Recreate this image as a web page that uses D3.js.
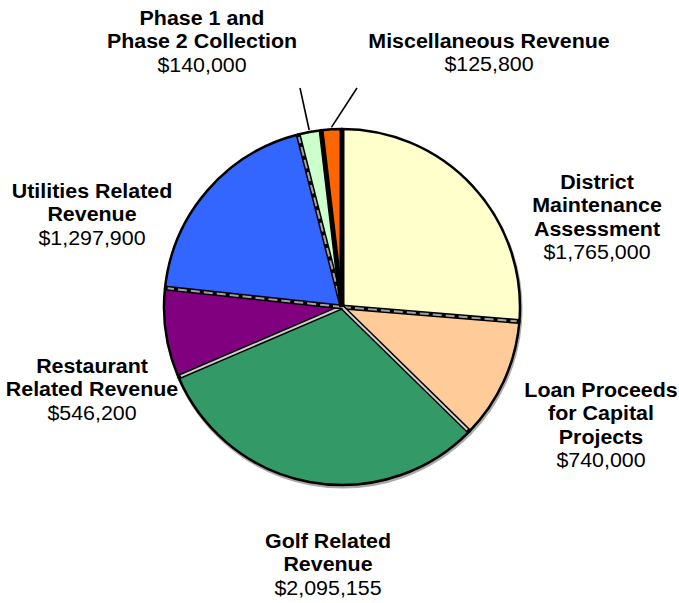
<!DOCTYPE html>
<html>
<head>
<meta charset="utf-8">
<script src="https://cdn.jsdelivr.net/npm/d3@7"></script>
<style>
  body { margin: 0; background: #fff; }
  svg { display: block; font-family: Arial, "Liberation Sans", sans-serif; }
  .lbl-b { font-weight: bold; font-size: 20px; fill: #000; }
  .lbl-v { font-size: 20px; fill: #000; }
</style>
</head>
<body>
<div id="chart"></div>
<script>
// slices, clockwise from 12 o'clock
const categories= [
  'District Maintenance Assessment',
  'Loan Proceeds for Capital Projects',
  'Golf Related Revenue',
  'Restaurant Related Revenue',
  'Utilities Related Revenue',
  'Phase 1 and Phase 2 Collection',
  'Miscellaneous Revenue',
];
const values= [1765000, 740000, 2095155, 546200, 1297900, 140000, 125800];
const colors= ['#FFFFCC', '#FFCC99', '#339966', '#800080', '#3366FF', '#CCFFCC', '#FF6600'];
const labelLines= [
  ['District', 'Maintenance', 'Assessment'],
  ['Loan Proceeds', 'for Capital', 'Projects'],
  ['Golf Related', 'Revenue'],
  ['Restaurant', 'Related Revenue'],
  ['Utilities Related', 'Revenue'],
  ['Phase 1 and', 'Phase 2 Collection'],
  ['Miscellaneous Revenue'],
];

const W= 679, H= 603;
const CX= 342, CY= 307, R= 178;
const LH= 23.5;
const SX= 1.07; // text is a little wider than plain Arial

// label anchor: centre x, baseline of first line
const LABEL_POS= [
  [597, 189], [601, 397], [328, 548], [92, 373], [92, 198], [202, 25], [489, 48],
];
// leader lines start (label end) for small slices
const LEADERS= { 5: [300, 88], 6: [357, 88] };

const fmt= d3.format('$,');

const svg= d3.select('#chart').append('svg')
  .attr('width', W).attr('height', H)
  .attr('viewBox', `0 0 ${W} ${H}`);

const pie= d3.pie().sort(null).value(d => d)(values);
const arc= d3.arc().innerRadius(0).outerRadius(R);

const g= svg.append('g').attr('transform', `translate(${CX},${CY})`);

// soft grey shadow round the rim
g.selectAll('path.shadow').data(pie).join('path')
  .attr('class', 'shadow')
  .attr('d', arc)
  .attr('transform', 'translate(1,2)')
  .attr('fill', '#aaa')
  .attr('stroke', '#aaa')
  .attr('stroke-width', 3);

g.selectAll('path.slice').data(pie).join('path')
  .attr('class', 'slice')
  .attr('d', arc)
  .attr('fill', (d, i) => colors[i])
  .attr('stroke', '#000')
  .attr('stroke-width', 2.5)
  .attr('stroke-linejoin', 'round');

// radial edges, bevelled look
pie.forEach((d, i) => {
  const a= d.startAngle;
  const x= R*Math.sin(a), y= -R*Math.cos(a);
  g.append('line')
    .attr('x1', 0).attr('y1', 0).attr('x2', x).attr('y2', y)
    .attr('stroke', '#000').attr('stroke-width', 5);
  const solid= (i === 2 || i === 3);
  const inner= (i === 0 || i === 6);
  if (inner) return;
  g.append('line')
    .attr('x1', 0).attr('y1', 0).attr('x2', x*0.985).attr('y2', y*0.985)
    .attr('stroke', solid ? '#d0d0d0' : '#a0a0a0')
    .attr('stroke-width', 2)
    .attr('stroke-dasharray', solid ? '' : '9,4');
});

// leader lines
Object.entries(LEADERS).forEach(([i, [lx, ly]]) => {
  const d= pie[+i];
  const m= (d.startAngle+d.endAngle)/2;
  const ex= CX+(R+2)*Math.sin(m), ey= CY-(R+2)*Math.cos(m);
  svg.append('line')
    .attr('x1', lx).attr('y1', ly).attr('x2', ex).attr('y2', ey)
    .attr('stroke', '#000').attr('stroke-width', 1.6);
});

// labels
categories.forEach((c, i) => {
  const [x, y]= LABEL_POS[i];
  const t= svg.append('text')
    .attr('text-anchor', 'middle')
    .attr('transform', `translate(${x},0) scale(${SX},1)`);
  labelLines[i].forEach((ln, k) => {
    t.append('tspan').attr('class', 'lbl-b')
      .attr('x', 0).attr('y', y+k*LH).text(ln);
  });
  t.append('tspan').attr('class', 'lbl-v')
    .attr('x', 0).attr('y', y+labelLines[i].length*LH).text(fmt(values[i]));
});
</script>
</body>
</html>
